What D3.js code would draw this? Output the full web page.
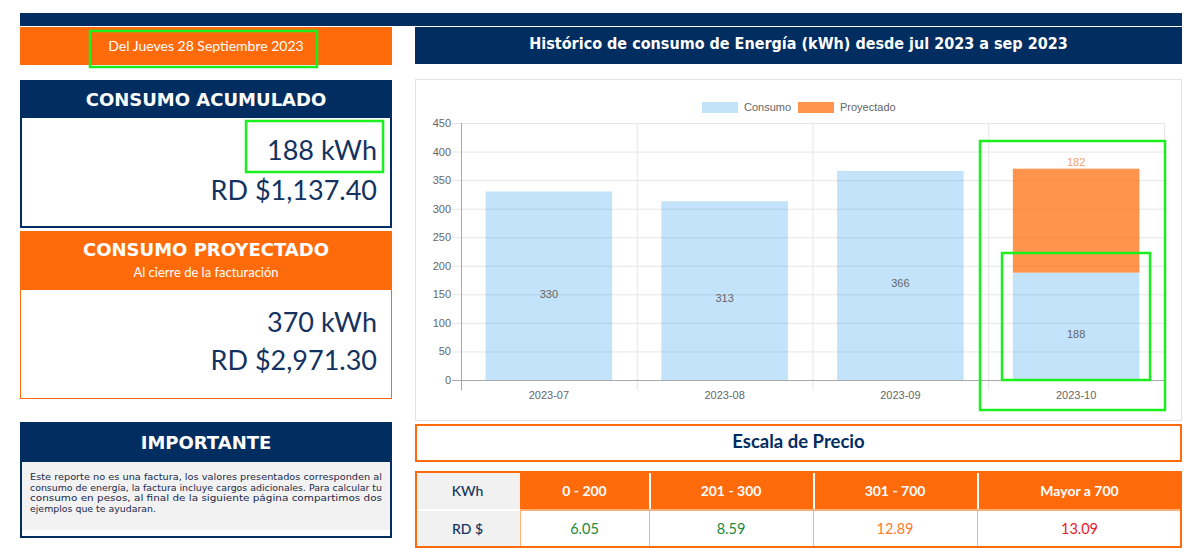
<!DOCTYPE html>
<html>
<head>
<meta charset="utf-8">
<script src="https://cdn.jsdelivr.net/npm/d3@7"></script>
<style>
  html, body { margin:0; padding:0; background:#fff; }
  #root { position:relative; width:1200px; height:554px; overflow:hidden; font-family:Lato, "Open Sans", sans-serif; }
  .abs { position:absolute; box-sizing:border-box; }
  .txt { position:absolute; white-space:nowrap; }
</style>
</head>
<body>
<div id="root"></div>
<script>
// ---------------- data ----------------
const categories = ["2023-07", "2023-08", "2023-09", "2023-10"];
const consumo = [330, 313, 366, 188];
const proyectado = [null, null, null, 182];
const seriesNames = ["Consumo", "Proyectado"];
const yTicks = [0, 50, 100, 150, 200, 250, 300, 350, 400, 450];
const priceRanges = ["0 - 200", "201 - 300", "301 - 700", "Mayor a 700"];
const prices = ["6.05", "8.59", "12.89", "13.09"];
const dateText = "Del Jueves 28 Septiembre 2023";
const acumulado = ["188 kWh", "RD $1,137.40"];
const proyectadoTot = ["370 kWh", "RD $2,971.30"];
const importanteLines = [
  "Este reporte no es una factura, los valores presentados corresponden al",
  "consumo de energía, la factura incluye cargos adicionales. Para calcular tu",
  "consumo en pesos, al final de la siguiente página compartimos dos",
  "ejemplos que te ayudaran."
];
const chartTitle = "Histórico de consumo de Energía (kWh) desde jul 2023 a sep 2023";

// ---------------- styles ----------------
const NAVY = "#022d61", ORANGE = "#ff6b0b", TEXTNAVY = "#14325f";
const root = d3.select("#root");

function box(x, y, w, h, style) {
  const d = root.append("div").attr("class", "abs")
    .style("left", x + "px").style("top", y + "px")
    .style("width", w + "px").style("height", h + "px");
  Object.entries(style || {}).forEach(([k, v]) => d.style(k, v));
  return d;
}
function text(str, opts) {
  const h = opts.size * 1.4;
  const d = root.append("div").attr("class", "txt")
    .style("top", (opts.cy - h / 2) + "px")
    .style("height", h + "px").style("line-height", h + "px")
    .style("font-size", opts.size + "px")
    .style("font-family", opts.family || "Lato, sans-serif")
    .style("font-weight", opts.weight || 400)
    .style("color", opts.color || "#000")
    .text(str);
  if (opts.anchor === "middle") {
    d.style("left", (opts.x - 400) + "px").style("width", "800px").style("text-align", "center");
  } else if (opts.anchor === "end") {
    d.style("left", (opts.x - 600) + "px").style("width", "600px").style("text-align", "right");
  } else {
    d.style("left", opts.x + "px");
  }
  return d;
}

// top navy bar
box(20, 13, 1162, 13, { background: NAVY });

// date box
box(20, 27, 372, 38, { background: ORANGE });
text(dateText, { x: 206, cy: 46, size: 14, color: "#fff", anchor: "middle" });

// consumo acumulado
box(20, 80, 372, 148, { border: "2px solid " + NAVY, background: "#fff" });
box(20, 80, 372, 38, { background: NAVY });
text("CONSUMO ACUMULADO", { x: 206, cy: 100, size: 18, weight: 700, color: "#fff", anchor: "middle", family: "'DejaVu Sans', sans-serif" });
text(acumulado[0], { x: 377, cy: 150, size: 27, color: TEXTNAVY, anchor: "end" });
text(acumulado[1], { x: 377, cy: 190, size: 27, color: TEXTNAVY, anchor: "end" });

// consumo proyectado
box(20, 231, 372, 168, { border: "1.5px solid " + ORANGE, background: "#fff" });
box(20, 231, 372, 59, { background: ORANGE });
text("CONSUMO PROYECTADO", { x: 206, cy: 250, size: 18, weight: 700, color: "#fff", anchor: "middle", family: "'DejaVu Sans', sans-serif" });
text("Al cierre de la facturación", { x: 206, cy: 272, size: 13, color: "#fff", anchor: "middle" });
text(proyectadoTot[0], { x: 377, cy: 322, size: 27, color: TEXTNAVY, anchor: "end" });
text(proyectadoTot[1], { x: 377, cy: 360, size: 27, color: TEXTNAVY, anchor: "end" });

// importante
box(20, 422, 372, 116, { border: "2px solid " + NAVY, background: "#fff" });
box(20, 422, 372, 40, { background: NAVY });
box(22, 462, 368, 68, { background: "#f2f2f2" });
text("IMPORTANTE", { x: 206, cy: 443, size: 18, weight: 700, color: "#fff", anchor: "middle", family: "'DejaVu Sans', sans-serif" });

// chart title
box(415, 27, 767, 37, { background: NAVY });
text(chartTitle, { x: 798.5, cy: 44, size: 16, weight: 700, color: "#fff", anchor: "middle", family: "'DejaVu Sans', sans-serif" }).style("font-stretch", "condensed");

// chart panel
box(415, 79, 767, 342, { border: "1px solid #e3e3e3", background: "#fff" });

// escala de precio
box(415, 424, 767, 38, { border: "2px solid " + ORANGE, background: "#fff" });
text("Escala de Precio", { x: 798.5, cy: 442, size: 18.5, weight: 700, color: NAVY, anchor: "middle" });

// price table
const colX = [415, 520, 649, 813, 977, 1182];
box(415, 471, 767, 77, { border: "2px solid " + ORANGE, background: "#fff" });
box(417, 473, 103, 73, { background: "#f1f1f1" });
for (let c = 1; c < 5; c++) {
  box(colX[c], 473, colX[c + 1] - colX[c] - (c === 4 ? 2 : 0), 37, { background: ORANGE, "border-left": c > 1 ? "2px solid #fff" : "none" });
  box(colX[c], 510, colX[c + 1] - colX[c] - (c === 4 ? 2 : 0), 36, { "border-left": "1.5px solid #ffb07a" });
}
box(417, 509, 103, 1.5, { background: "#fff" });
box(520, 509, 660, 1.5, { background: "#ffb07a" });
text("KWh", { x: 467.5, cy: 491, size: 14, weight: 500, color: TEXTNAVY, anchor: "middle" });
text("RD $", { x: 467.5, cy: 529, size: 14, weight: 500, color: TEXTNAVY, anchor: "middle" });
const priceColors = ["#22883a", "#22883a", "#ff7a2c", "#e5192b"];
priceRanges.forEach((r, i) => {
  const cx = (colX[i + 1] + colX[i + 2]) / 2;
  text(r, { x: cx, cy: 491, size: 14, weight: 700, color: "#fff", anchor: "middle" });
  text(prices[i], { x: cx, cy: 529, size: 14.5, weight: 400, color: priceColors[i], anchor: "middle" });
});

// ---------------- chart ----------------
const svg = root.append("svg").attr("width", 1200).attr("height", 554)
  .style("position", "absolute").style("left", 0).style("top", 0);

// importante body text (justified lines)
const impG = svg.append("g");
importanteLines.forEach((ln, i) => {
  const last = i === importanteLines.length - 1;
  const t = impG.append("text").attr("x", 30).attr("y", 477 + i * 10.6).attr("dy", "0.35em")
    .attr("font-family", "'DejaVu Sans', sans-serif").attr("font-size", 9.4)
    .attr("fill", "#1a2a4a").text(ln);
  if (!last) t.attr("textLength", 352).attr("lengthAdjust", "spacingAndGlyphs");
});

const x = d3.scaleBand().domain(categories).range([461, 1164]).padding(0);
const y = d3.scaleLinear().domain([0, 450]).range([380, 123]);
const barW = x.bandwidth() * 0.72;
const font = "'Liberation Sans', Arial, sans-serif";
const FS = 11;
const GRID = "#e6e6e6";

// horizontal grid + tick marks
svg.append("g").selectAll("line").data(yTicks).join("line")
  .attr("x1", 452).attr("x2", 1164)
  .attr("y1", d => y(d) + 0.5).attr("y2", d => y(d) + 0.5)
  .attr("stroke", GRID).attr("stroke-width", 1);
// vertical grid lines at category boundaries
const bounds = categories.map(c => x(c)).concat([x.range()[1]]);
svg.append("g").selectAll("line").data(bounds.slice(1)).join("line")
  .attr("x1", d => d + 0.5).attr("x2", d => d + 0.5)
  .attr("y1", y(450)).attr("y2", 390)
  .attr("stroke", GRID).attr("stroke-width", 1);

// y axis via d3
const yAxis = d3.axisLeft(y).tickValues(yTicks).tickSize(0).tickPadding(10);
const gy = svg.append("g").attr("transform", "translate(461,0)").call(yAxis);
gy.select(".domain").remove();
gy.selectAll("text").attr("font-family", font).attr("font-size", FS).attr("fill", "#666").attr("x", -10);

// x axis via d3
const xAxis = d3.axisBottom(x).tickSize(0).tickPadding(10);
const gx = svg.append("g").attr("transform", "translate(0,380)").call(xAxis);
gx.select(".domain").remove();
gx.selectAll("text").attr("font-family", font).attr("font-size", FS).attr("fill", "#666").attr("dy", "0.78em").attr("y", 10);

// bars
const bars = svg.append("g");
bars.selectAll("rect.c").data(categories).join("rect").attr("class", "c")
  .attr("x", (d) => x(d) + (x.bandwidth() - barW) / 2)
  .attr("width", barW)
  .attr("y", (d, i) => y(consumo[i]))
  .attr("height", (d, i) => y(0) - y(consumo[i]))
  .attr("fill", "rgb(54,162,235)").attr("fill-opacity", 0.3);
const projIdx = categories.map((c, i) => i).filter(i => proyectado[i] != null);
bars.selectAll("rect.p").data(projIdx).join("rect").attr("class", "p")
  .attr("x", i => x(categories[i]) + (x.bandwidth() - barW) / 2)
  .attr("width", barW)
  .attr("y", i => y(consumo[i] + proyectado[i]))
  .attr("height", i => y(consumo[i]) - y(consumo[i] + proyectado[i]))
  .attr("fill", "rgb(255,102,0)").attr("fill-opacity", 0.7);

// axis lines
svg.append("line").attr("x1", 461.5).attr("x2", 461.5).attr("y1", y(450)).attr("y2", 390).attr("stroke", "#a8a8a8");
svg.append("line").attr("x1", 452).attr("x2", 1164).attr("y1", 380.5).attr("y2", 380.5).attr("stroke", "#a8a8a8");

// value labels
svg.append("g").selectAll("text").data(categories).join("text")
  .attr("x", d => x(d) + x.bandwidth() / 2)
  .attr("y", (d, i) => y(consumo[i] / 2) + 8)
  .attr("dy", "0.35em").attr("text-anchor", "middle")
  .attr("font-family", font).attr("font-size", FS).attr("fill", "#666")
  .text((d, i) => consumo[i]);
svg.append("g").selectAll("text").data(projIdx).join("text")
  .attr("x", i => x(categories[i]) + x.bandwidth() / 2)
  .attr("y", i => y(consumo[i] + proyectado[i]) - 7)
  .attr("dy", "0.35em").attr("text-anchor", "middle")
  .attr("font-family", font).attr("font-size", FS).attr("fill", "#f7a062")
  .text(i => proyectado[i]);

// legend
const legColors = [["rgb(54,162,235)", 0.3], ["rgb(255,102,0)", 0.7]];
const legX = [702, 798];
const lg = svg.append("g");
seriesNames.forEach((n, i) => {
  lg.append("rect").attr("x", legX[i]).attr("y", 102).attr("width", 36).attr("height", 11)
    .attr("fill", legColors[i][0]).attr("fill-opacity", legColors[i][1]);
  lg.append("text").attr("x", legX[i] + 42).attr("y", 107.5).attr("dy", "0.35em")
    .attr("font-family", font).attr("font-size", FS).attr("fill", "#666").text(n);
});

// highlight annotation boxes (as in reference)
const hl = [[90, 31, 227, 36], [246, 121, 137, 51], [980, 141, 185, 269], [1002, 253, 148, 127]];
svg.append("g").selectAll("rect").data(hl).join("rect")
  .attr("x", d => d[0]).attr("y", d => d[1]).attr("width", d => d[2]).attr("height", d => d[3])
  .attr("fill", "none").attr("stroke", "#19f01e").attr("stroke-width", 2.5);
</script>
</body>
</html>
